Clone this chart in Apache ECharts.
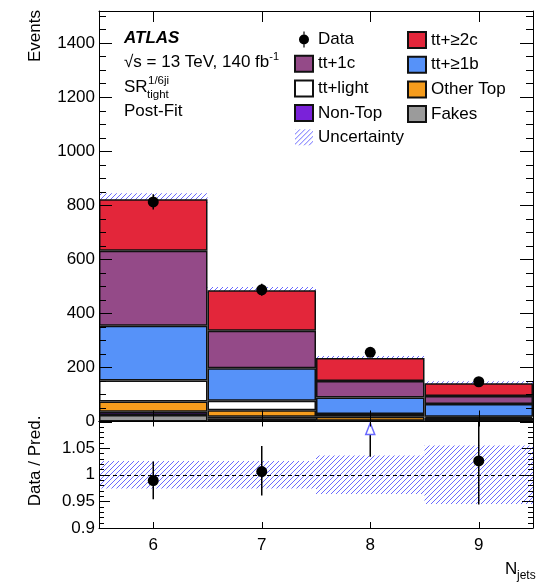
<!DOCTYPE html>
<html><head><meta charset="utf-8">
<script src="https://cdn.jsdelivr.net/npm/echarts@6/dist/echarts.min.js"></script>
<style>html,body{margin:0;padding:0;background:#fff}#c{width:556px;height:583px}</style>
</head><body><div id="c"></div>
<script>
// ---------------- data ----------------
const categories = ['6', '7', '8', '9'];
const fakes    = [24, 10, 1.5, 2];
const nonTop   = [12, 8, 1.5, 2];
const otherTop = [38, 24, 14.5, 9];
const ttLight  = [78, 35, 10, 5];
const tt1b     = [202, 120, 61, 47];
const tt1c     = [277, 139, 61, 29];
const tt2c     = [191, 149, 85, 47];
const dataVals = [812, 487, 256, 147];
const dataErr  = [28, 22, 16, 12];
const predUnc  = [22, 12, 8, 8];
const ratioVals = [0.989, 1.006, 1.12, 1.026];
const ratioLo   = [0.954, 0.961, 1.034, 0.944];
const ratioHi   = [1.025, 1.054, 1.2, 1.2];
const ratioUnc  = [0.026, 0.026, 0.036, 0.055];
const mainYTicks  = [0, 200, 400, 600, 800, 1000, 1200, 1400];
const ratioYTicks = [0.9, 0.95, 1, 1.05];

// ---------------- style ----------------
const FONT = '"Liberation Sans", Arial, Helvetica, sans-serif';
const FS = 17;
const MAIN_MAX = 1518, RATIO_MIN = 0.9, RATIO_MAX = 1.1;
const EDGE = '#111';
const G0 = { x: 99, y: 11, w: 434, h: 410.5 };
const G1 = { x: 99, y: 421.5, w: 434, h: 106.5 };

function makeHatch() {
  const s = 5, c = document.createElement('canvas');
  c.width = s; c.height = s;
  const g = c.getContext('2d');
  g.strokeStyle = '#6a6aff'; g.lineWidth = 1;
  g.beginPath();
  for (let k = -1; k <= 1; k++) { g.moveTo(k * s, s); g.lineTo(k * s + s, 0); }
  g.stroke();
  return c;
}
const hatchFill = { image: makeHatch(), repeat: 'repeat' };

const total = categories.map((_, i) =>
  fakes[i] + nonTop[i] + otherTop[i] + ttLight[i] + tt1b[i] + tt1c[i] + tt2c[i]);

// ---------------- axes ----------------
function catX(grid, pos, labels) {
  return {
    type: 'category', gridIndex: grid, position: pos, data: categories, boundaryGap: true, z: 10,
    axisLine: { show: true, onZero: false, lineStyle: { color: '#000', width: 1 } },
    axisTick: { show: false },
    axisLabel: { show: labels, fontSize: FS, color: '#000', fontFamily: FONT, margin: 9 },
    splitLine: { show: false }, splitArea: { show: false }
  };
}
function valY(grid, pos, opts) {
  return Object.assign({
    type: 'value', gridIndex: grid, position: pos, z: 10,
    axisLine: { show: true, onZero: false, lineStyle: { color: '#000', width: 1 } },
    axisTick: { show: false },
    splitLine: { show: false }, splitArea: { show: false }
  }, opts);
}
const mainFmt = v => mainYTicks.includes(v) ? String(v) : '';
const ratioFmt = v => {
  const r = +(+v).toFixed(3);
  return ratioYTicks.some(t => Math.abs(t - r) < 1e-6) ? String(r) : '';
};

const xAxis = [
  catX(0, 'bottom', false),
  catX(0, 'top', false),
  catX(1, 'bottom', true),
  catX(1, 'top', false)
];
const yAxis = [
  valY(0, 'left', { min: 0, max: MAIN_MAX, interval: 200,
    axisLabel: { show: true, showMaxLabel: false, margin: 4, fontSize: FS, color: '#000', fontFamily: FONT, formatter: mainFmt } }),
  valY(0, 'right', { min: 0, max: MAIN_MAX, interval: 200, axisLabel: { show: false } }),
  valY(1, 'left', { min: RATIO_MIN, max: RATIO_MAX, interval: 0.05,
    axisLabel: { show: true, showMaxLabel: false, margin: 4, fontSize: FS, color: '#000', fontFamily: FONT, formatter: ratioFmt } }),
  valY(1, 'right', { min: RATIO_MIN, max: RATIO_MAX, interval: 0.05, axisLabel: { show: false } })
];

// ---------------- render helpers ----------------
function clampY(y, cs) { return Math.max(cs.y, Math.min(cs.y + cs.height, y)); }

function bandItem(params, api) {
  const i = api.value(0), lo = api.value(1), hi = api.value(2);
  const w = api.size([1, 0])[0];
  const cs = params.coordSys;
  const a = api.coord([i, hi]), b = api.coord([i, lo]);
  const y1 = clampY(a[1], cs), y2 = clampY(b[1], cs);
  return { type: 'rect', shape: { x: a[0] - w / 2, y: y1, width: w, height: y2 - y1 },
           style: { fill: hatchFill, stroke: null } };
}
function errItem(params, api) {
  const i = api.value(0), v = api.value(1), lo = api.value(2), hi = api.value(3);
  const cs = params.coordSys;
  const a = api.coord([i, hi]), b = api.coord([i, lo]);
  const x = a[0];
  if (v > RATIO_MAX && params.seriesName === 'ratioErr') {
    const top = cs.y;
    return { type: 'group', children: [
      { type: 'line', shape: { x1: x, y1: clampY(b[1], cs), x2: x, y2: top + 13 }, style: { stroke: '#000', lineWidth: 1.5 } },
      { type: 'polygon', shape: { points: [[x, top + 1.5], [x - 4.5, top + 13], [x + 4.5, top + 13]] },
        style: { fill: '#fff', stroke: '#6a6aff', lineWidth: 1.5 } }
    ]};
  }
  return { type: 'line', shape: { x1: x, y1: clampY(a[1], cs), x2: x, y2: clampY(b[1], cs) },
           style: { stroke: '#000', lineWidth: 1.5 } };
}

function barSeries(name, data, color) {
  return {
    type: 'bar', name: name, stack: 'pred', data: data, xAxisIndex: 0, yAxisIndex: 0,
    barCategoryGap: '0%', barGap: '0%', z: 2,
    itemStyle: { color: color, borderColor: EDGE, borderWidth: 1.5, opacity: 1 },
    emphasis: { disabled: true }, silent: true
  };
}

const series = [
  { type: 'custom', name: 'Uncertainty', xAxisIndex: 0, yAxisIndex: 0, z: 1, silent: true,
    itemStyle: { color: hatchFill },
    data: categories.map((_, i) => [i, total[i] - predUnc[i], total[i] + predUnc[i]]),
    renderItem: bandItem },
  barSeries('Fakes', fakes, '#9b9b9b'),
  barSeries('Non-Top', nonTop, '#7a22d9'),
  barSeries('Other Top', otherTop, '#f59c1d'),
  barSeries('tt+light', ttLight, '#ffffff'),
  barSeries('tt+≥1b', tt1b, '#5692f9'),
  barSeries('tt+1c', tt1c, '#944a88'),
  barSeries('tt+≥2c', tt2c, '#e3263a'),
  { type: 'custom', name: 'mainErr', xAxisIndex: 0, yAxisIndex: 0, z: 15, silent: true,
    data: categories.map((_, i) => [i, dataVals[i], dataVals[i] - dataErr[i], dataVals[i] + dataErr[i]]),
    renderItem: errItem },
  { type: 'scatter', name: 'Data', xAxisIndex: 0, yAxisIndex: 0, z: 16, silent: true,
    symbol: 'circle', symbolSize: 11, itemStyle: { color: '#000', opacity: 1 },
    data: dataVals.map((v, i) => [i, v]) },
  // ratio panel
  { type: 'custom', name: 'Uncertainty', xAxisIndex: 2, yAxisIndex: 2, z: 1, silent: true,
    itemStyle: { color: hatchFill },
    data: categories.map((_, i) => [i, 1 - ratioUnc[i], 1 + ratioUnc[i]]),
    renderItem: bandItem },
  { type: 'custom', name: 'ratioErr', xAxisIndex: 2, yAxisIndex: 2, z: 15, silent: true,
    data: categories.map((_, i) => [i, ratioVals[i], ratioLo[i], ratioHi[i]]),
    renderItem: errItem },
  { type: 'scatter', name: 'ratioData', xAxisIndex: 2, yAxisIndex: 2, z: 16, silent: true,
    symbol: 'circle', symbolSize: 11, itemStyle: { color: '#000', opacity: 1 },
    data: ratioVals.map((v, i) => v <= RATIO_MAX ? [i, v] : [i, '-']),
    markLine: { silent: true, symbol: 'none', label: { show: false }, z: 2,
      lineStyle: { color: '#000', width: 1, type: [4, 3], opacity: 1 },
      emphasis: { disabled: true },
      data: [{ yAxis: 1 }] } }
];

const DATA_ICON = 'path://M0,0 L0.01,0 L0,0.01 Z M18,16 L17.99,16 L18,15.99 Z ' +
  'M8.4,0 L9.6,0 L9.6,3.2 L8.4,3.2 Z M8.4,12.8 L9.6,12.8 L9.6,16 L8.4,16 Z ' +
  'M9,3 A5,5 0 1 1 8.99,3 Z';

const legendBase = {
  orient: 'vertical', top: 31, itemWidth: 18, itemHeight: 16, itemGap: 6.7,
  selectedMode: false, icon: 'rect', padding: 0,
  textStyle: { fontSize: FS, color: '#000', fontFamily: FONT }
};

const gtext = (txt, x, y, size, extra) => Object.assign({
  type: 'text', x: x, y: y, silent: true,
  style: Object.assign({ text: txt, fontSize: size, fontFamily: FONT, fill: '#000',
    align: 'left', verticalAlign: 'middle' }, (extra && extra.style) || {})
}, extra && extra.el ? extra.el : {});

const textElements = [
  gtext('ATLAS', 124, 38.5, FS, { style: { fontWeight: 'bold', fontStyle: 'italic' } }),
  { type: 'text', x: 124, y: 62, silent: true, style: {
      text: '{a|√s = 13 TeV, 140 fb}{b|-1}', verticalAlign: 'middle', align: 'left',
      rich: {
        a: { fontSize: FS, fontFamily: FONT, fill: '#000', lineHeight: 22 },
        b: { fontSize: 11, fontFamily: FONT, fill: '#000', lineHeight: 11, verticalAlign: 'top' }
      } } },
  gtext('SR', 124, 87, FS),
  gtext('1/6ji', 148, 81, 11.5),
  gtext('tight', 147, 94.5, 11.5),
  gtext('Post-Fit', 124, 111, FS),
  gtext('Events', 35, 10, FS, { el: { rotation: Math.PI / 2 }, style: { align: 'right' } }),
  gtext('Data / Pred.', 35, 461, FS, { el: { rotation: Math.PI / 2 }, style: { align: 'center' } }),
  gtext('N', 505, 569, FS),
  gtext('jets', 517, 576, 12)
];

const option = {
  animation: false,
  backgroundColor: '#fff',
  grid: [
    { left: G0.x, top: G0.y, width: G0.w, height: G0.h, show: false, containLabel: false, outerBoundsMode: 'none' },
    { left: G1.x, top: G1.y, width: G1.w, height: G1.h, show: false, containLabel: false, outerBoundsMode: 'none' }
  ],
  xAxis: xAxis,
  yAxis: yAxis,
  legend: [
    Object.assign({}, legendBase, { left: 294,
      data: [{ name: 'Data', icon: DATA_ICON }, 'tt+1c', 'tt+light', 'Non-Top', 'Uncertainty'] }),
    Object.assign({}, legendBase, { left: 407,
      data: ['tt+≥2c', 'tt+≥1b', 'Other Top', 'Fakes'] })
  ],
  series: series,
  graphic: { elements: textElements }
};

const chart = echarts.init(document.getElementById('c'), null, { renderer: 'canvas', width: 556, height: 583 });
chart.setOption(option);

// ---------- ROOT-style inside tick marks on all four frame sides, placed with the axis scales ----------
function tLine(x1, y1, x2, y2) {
  return { type: 'line', silent: true, z: 100, shape: { x1: x1, y1: y1, x2: x2, y2: y2 },
           style: { stroke: '#000', lineWidth: 1 } };
}
const tickEls = [];
const px = (xi, yi, pt) => chart.convertToPixel({ xAxisIndex: xi, yAxisIndex: yi }, pt);
// main y: major every 200, minor every 50
for (let v = 0; v <= 1500; v += 50) {
  const y = Math.round(px(0, 0, [0, v])[1]) + 0.5;
  const len = v % 200 === 0 ? 13 : 7;
  tickEls.push(tLine(G0.x, y, G0.x + len, y), tLine(G0.x + G0.w - len, y, G0.x + G0.w, y));
}
// ratio y: major every 0.05, minor every 0.01
for (let k = 0; k <= 20; k++) {
  const v = RATIO_MIN + k * 0.01;
  const y = Math.round(px(2, 2, [0, v])[1]) + 0.5;
  const len = k % 5 === 0 ? 11 : 5;
  tickEls.push(tLine(G1.x, y, G1.x + len, y), tLine(G1.x + G1.w - len, y, G1.x + G1.w, y));
}
// x ticks at bin centres
categories.forEach((c, i) => {
  const x0 = Math.round(px(0, 0, [i, 0])[0]) + 0.5;
  tickEls.push(tLine(x0, G0.y + G0.h - 11, x0, G0.y + G0.h), tLine(x0, G0.y, x0, G0.y + 11));
  const x1 = Math.round(px(2, 2, [i, 1])[0]) + 0.5;
  tickEls.push(tLine(x1, G1.y + G1.h - 6, x1, G1.y + G1.h), tLine(x1, G1.y, x1, G1.y + 5));
});
chart.setOption({ graphic: { elements: textElements.concat(tickEls) } });
</script>
</body></html>
